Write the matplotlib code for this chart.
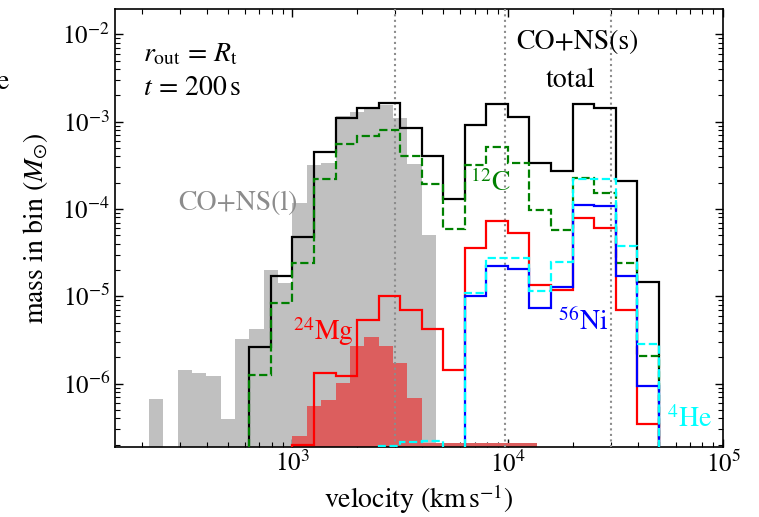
import numpy as np
import matplotlib
matplotlib.use("Agg")
import matplotlib.pyplot as plt
from matplotlib.ticker import NullFormatter

plt.rcParams['font.family'] = 'STIXGeneral'
plt.rcParams['mathtext.fontset'] = 'stix'

# ---- CO+NS(s): 0.1 dex velocity bins, log10(v) from 2.8 to 4.7 ----
s_edges = 10 ** np.linspace(2.8, 4.7, 20)
total = [2.6e-6, 1.7e-5, 4.8e-5, 4.5e-4, 1.1e-3, 1.42e-3, 1.65e-3, 8.4e-4, 4.06e-4,
         1.3e-4, 9.2e-4, 1.58e-3, 1.14e-3, 3.34e-4, 2.75e-4, 1.6e-3, 1.42e-3,
         2.1e-4, 1.45e-5]
c12 = [1.27e-6, 8.3e-6, 2.4e-5, 2.19e-4, 5.56e-4, 6.8e-4, 8.0e-4, 4.0e-4, 1.95e-4,
       5.9e-5, 3.2e-4, 5.1e-4, 3.4e-4, 9.8e-5, 5.8e-5, 2.29e-4, 1.54e-4,
       2.44e-5, 2.07e-6]
mg24 = [1e-12, 1e-12, 2.0e-7, 1.32e-6, 1.21e-6, 5.3e-6, 1.02e-5, 7.0e-6, 4.2e-6,
        1.44e-6, 3.56e-5, 7.3e-5, 5.3e-5, 1.36e-5, 1.19e-5, 7.8e-5, 6.0e-5,
        7.0e-6, 3.5e-7]
ni56 = [1e-12, 1e-12, 1e-12, 1e-12, 1e-12, 1e-12, 1e-12, 1e-12, 1e-12,
        1e-12, 1.01e-5, 2.23e-5, 2.05e-5, 7.3e-6, 1.27e-5, 1.11e-4, 1.08e-4,
        1.69e-5, 9.5e-7]
he4 = [1e-12, 1e-12, 1e-12, 1e-12, 1e-12, 1e-12, 1.95e-7, 2.15e-7, 2.2e-7,
       1e-12, 1.1e-5, 2.78e-5, 2.74e-5, 1.14e-5, 2.5e-5, 2.2e-4, 2.2e-4,
       3.8e-5, 2.86e-6]

# ---- CO+NS(l): 1/15 dex velocity bins ----
l_edges = 10 ** np.linspace(35 / 15, 55 / 15, 21)
l_total = [6.7e-7, 1e-12, 1.44e-6, 1.32e-6, 1.23e-6, 3.96e-7, 3.24e-6, 4.25e-6,
           2.01e-5, 1.44e-5, 1.16e-4, 3.2e-4, 3.4e-4, 1.15e-3, 1.30e-3, 1.49e-3,
           1.55e-3, 1.1e-3, 3.3e-4, 5.0e-5]
mg_edges = 10 ** np.linspace(45 / 15, 62 / 15, 18)
l_mg24 = [2.5e-7, 5.6e-7, 6.5e-7, 1.01e-6, 2.67e-6, 3.41e-6, 2.72e-6, 1.72e-6,
          6.8e-7, 2.1e-7, 2.1e-7, 2.1e-7, 2.1e-7, 2.1e-7, 2.1e-7, 2.1e-7, 2.1e-7]

# reference velocities (km/s)
v_marks = [3000, 9700, 30000]

fig = plt.figure(figsize=(7.59, 5.17), dpi=100)
ax = fig.add_axes([115 / 759, 1 - 446.7 / 517, 608.3 / 759, 437.7 / 517])
ax.set_xscale('log')
ax.set_yscale('log')

base = 1e-12
ax.stairs(l_total, l_edges, baseline=base, fill=True, color='#c0c0c0', zorder=1)
ax.stairs(l_mg24, mg_edges, baseline=base, fill=True, color='#dc5e5e', zorder=2)

for v in v_marks:
    ax.axvline(v, color='0.55', ls=':', lw=1.5, zorder=3)

lw = 1.6
ax.stairs(total, s_edges, baseline=base, color='k', lw=lw, zorder=4)
ax.stairs(c12, s_edges, baseline=base, color='#008000', lw=lw, ls='--', zorder=5)
ax.stairs(mg24, s_edges, baseline=base, color='red', lw=lw, zorder=6)
ax.stairs(ni56, s_edges, baseline=base, color='blue', lw=lw, zorder=7)
ax.stairs(he4, s_edges, baseline=base, color='cyan', lw=lw, ls='--', zorder=8)

ax.set_xlim(150, 1e5)
ax.set_ylim(1.9e-7, 1.95e-2)

ax.tick_params(which='both', direction='in', top=True, right=True, labelsize=18)
ax.tick_params(which='major', length=6, width=1)
ax.tick_params(which='minor', length=3.5, width=0.8)
ax.xaxis.set_minor_formatter(NullFormatter())
ax.yaxis.set_minor_formatter(NullFormatter())
for sp in ax.spines.values():
    sp.set_linewidth(1.2)

ax.set_xlabel(r'velocity (km$\,$s$^{-1}$)', fontsize=20, labelpad=3)
ax.set_ylabel(r'mass in bin ($M_{\odot}$)', fontsize=20, labelpad=9)

tr = ax.transAxes
fs = 20
ax.text(0.046, 0.895, r'$r_{\rm out}\,=\,R_{\rm t}$', transform=tr, fontsize=fs,
        ha='left', va='center')
ax.text(0.046, 0.8195, r'$t\,=\,200\,{\rm s}$', transform=tr, fontsize=fs,
        ha='left', va='center')
ax.text(0.7595, 0.9246, 'CO+NS(s)', transform=tr, fontsize=fs, ha='center', va='center')
ax.text(0.7488, 0.8378, 'total', transform=tr, fontsize=fs, ha='center', va='center')
ax.text(0.2014, 0.5568, 'CO+NS(l)', transform=tr, fontsize=fs, ha='center',
        va='center', color='0.55')
ax.text(0.5836, 0.6025, r'$^{12}$C', transform=tr, fontsize=fs, ha='left',
        va='center', color='#008000')
ax.text(0.2926, 0.262, r'$^{24}$Mg', transform=tr, fontsize=fs, ha='left',
        va='center', color='red')
ax.text(0.7283, 0.2849, r'$^{56}$Ni', transform=tr, fontsize=fs, ha='left',
        va='center', color='blue')
ax.text(0.9074, 0.061, r'$^{4}$He', transform=tr, fontsize=fs, ha='left',
        va='center', color='cyan')

fig.text(9 / 759, 1 - 82 / 517, 'e', fontsize=20, ha='right', va='center')

fig.savefig('out.png', dpi=100)
